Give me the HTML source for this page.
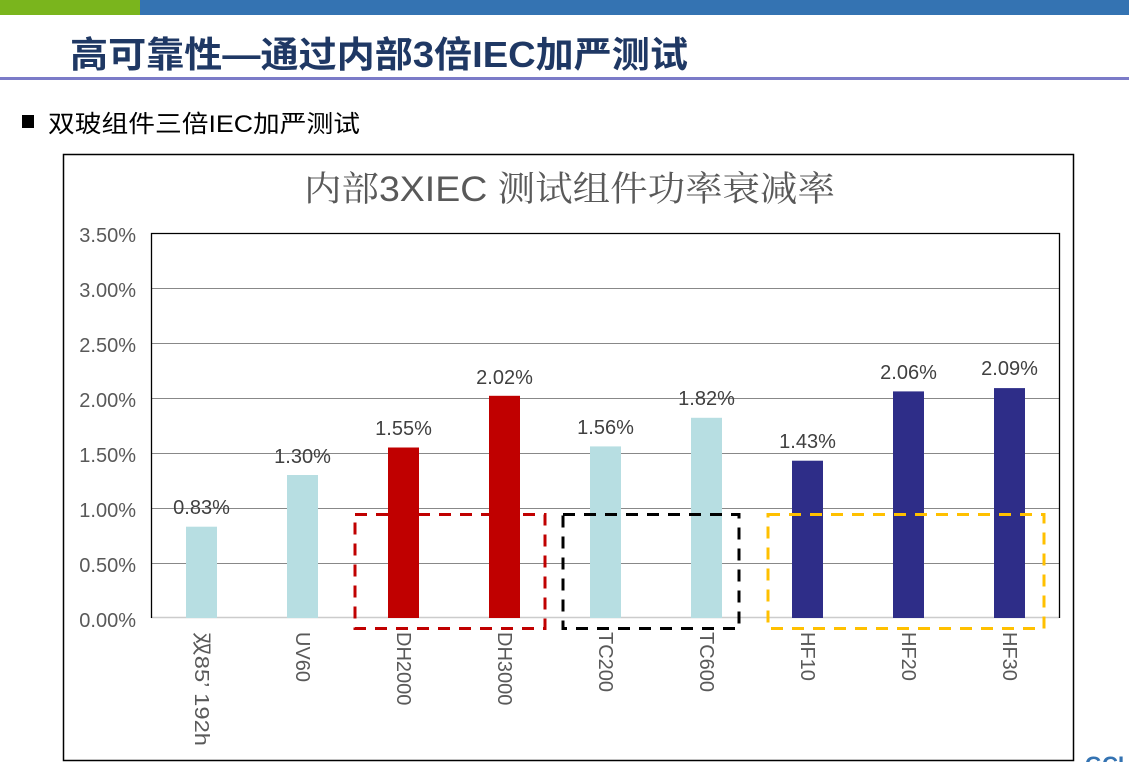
<!DOCTYPE html>
<html><head><meta charset="utf-8"><style>
body{margin:0;width:1129px;height:762px;overflow:hidden;background:#fff;font-family:"Liberation Sans","Noto Sans CJK SC",sans-serif;}
</style></head><body>
<svg width="1129" height="762" xmlns="http://www.w3.org/2000/svg" style="position:absolute;left:0;top:0">
<rect x="0" y="0" width="140" height="15" fill="#7ab51d"/>
<rect x="140" y="0" width="989" height="15" fill="#3473b2"/>
<text x="70" y="67" font-family="Liberation Sans,Noto Sans CJK SC,sans-serif" font-size="36" font-weight="bold" fill="#1f3864" textLength="618" lengthAdjust="spacingAndGlyphs">高可靠性—通过内部3倍IEC加严测试</text>
<rect x="0" y="77" width="1129" height="3" fill="#7b7bc8"/>
<rect x="22" y="115" width="12" height="13" fill="#000"/>
<text x="48" y="132" font-size="24" fill="#000" font-family="Liberation Sans,Noto Sans CJK SC,sans-serif" textLength="312" lengthAdjust="spacingAndGlyphs">双玻组件三倍IEC加严测试</text>
<rect x="63.5" y="154.5" width="1010" height="606" fill="none" stroke="#000" stroke-width="1.5"/>
<text x="304" y="201" font-size="35" fill="#595959" font-family="Liberation Sans,Noto Serif CJK SC,sans-serif" textLength="531" lengthAdjust="spacingAndGlyphs">内部3XIEC 测试组件功率衰减率</text>
<g stroke="#888" stroke-width="1">
<line x1="151" y1="288.5" x2="1059" y2="288.5"/><line x1="151" y1="343.5" x2="1059" y2="343.5"/>
<line x1="151" y1="398.5" x2="1059" y2="398.5"/><line x1="151" y1="453.5" x2="1059" y2="453.5"/>
<line x1="151" y1="508.5" x2="1059" y2="508.5"/><line x1="151" y1="563.5" x2="1059" y2="563.5"/>
</g>
<line x1="151" y1="617.5" x2="1059" y2="617.5" stroke="#ccc" stroke-width="1.5"/>
<path d="M151.5 618 V233.5 H1059.5 V618" fill="none" stroke="#000" stroke-width="1.3"/>
<g font-size="20" fill="#595959" text-anchor="end">
<text x="136" y="242">3.50%</text><text x="136" y="297">3.00%</text><text x="136" y="352">2.50%</text>
<text x="136" y="407">2.00%</text><text x="136" y="462">1.50%</text><text x="136" y="517">1.00%</text>
<text x="136" y="572">0.50%</text><text x="136" y="627">0.00%</text>
</g>
<g>
<rect x="186" y="526.7" width="31" height="91.3" fill="#b7dee2"/>
<rect x="287" y="475" width="31" height="143" fill="#b7dee2"/>
<rect x="388" y="447.5" width="31" height="170.5" fill="#c00000"/>
<rect x="489" y="395.8" width="31" height="222.2" fill="#c00000"/>
<rect x="590" y="446.4" width="31" height="171.6" fill="#b7dee2"/>
<rect x="691" y="417.8" width="31" height="200.2" fill="#b7dee2"/>
<rect x="792" y="460.7" width="31" height="157.3" fill="#2e2d88"/>
<rect x="893" y="391.4" width="31" height="226.6" fill="#2e2d88"/>
<rect x="994" y="388.1" width="31" height="229.9" fill="#2e2d88"/>
</g>
<g font-size="20" fill="#404040" text-anchor="middle">
<text x="201.5" y="514">0.83%</text><text x="302.5" y="463">1.30%</text><text x="403.5" y="435">1.55%</text>
<text x="504.5" y="384">2.02%</text><text x="605.5" y="434">1.56%</text><text x="706.5" y="405">1.82%</text>
<text x="807.5" y="448">1.43%</text><text x="908.5" y="379">2.06%</text><text x="1009.5" y="375">2.09%</text>
</g>
<g font-size="20" fill="#595959">
<text transform="translate(195,632) rotate(90)" textLength="114" lengthAdjust="spacingAndGlyphs">双85’ 192h</text>
<text transform="translate(296,632) rotate(90)">UV60</text>
<text transform="translate(397,632) rotate(90)">DH2000</text>
<text transform="translate(498,632) rotate(90)">DH3000</text>
<text transform="translate(599,632) rotate(90)">TC200</text>
<text transform="translate(700,632) rotate(90)">TC600</text>
<text transform="translate(801,632) rotate(90)">HF10</text>
<text transform="translate(902,632) rotate(90)">HF20</text>
<text transform="translate(1003,632) rotate(90)">HF30</text>
</g>
<g fill="none" stroke-width="3" stroke-dasharray="12,9">
<rect x="355" y="514.5" width="190" height="114" stroke="#c00000"/>
<rect x="563" y="514.5" width="176" height="114" stroke="#000"/>
<rect x="768" y="514.5" width="276" height="114" stroke="#ffc000"/>
</g>
<text x="1085" y="772" font-size="22" font-weight="bold" fill="#3473b2">GCL</text>
</svg>
</body></html>
